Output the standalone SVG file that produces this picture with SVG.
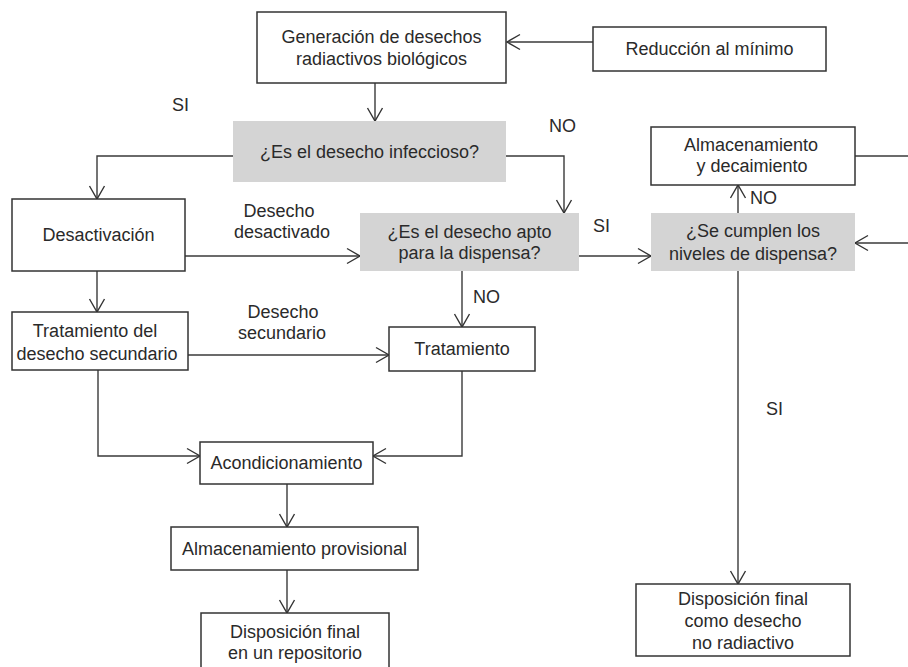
<svg xmlns="http://www.w3.org/2000/svg" width="908" height="667" viewBox="0 0 908 667">
  <defs>
    <marker id="arrow" markerUnits="userSpaceOnUse" markerWidth="16" markerHeight="18" viewBox="-14 -9 16 18" refX="0" refY="0" orient="auto">
      <path d="M-13,-7.5 L0,0 L-13,7.5" fill="none" stroke="#333" stroke-width="1.4"/>
    </marker>
    <style>
      .box { fill: #fff; stroke: #333; stroke-width: 1.5; }
      .q { fill: #d4d4d4; stroke: none; }
      .t { font-family: "Liberation Sans", Arial, sans-serif; font-size: 18px; fill: #2a2a2a; text-anchor: middle; }
      .lbl { font-family: "Liberation Sans", Arial, sans-serif; font-size: 18px; fill: #2a2a2a; }
      .c { fill: none; stroke: #3a3a3a; stroke-width: 1.4; }
      .a { fill: none; stroke: #3a3a3a; stroke-width: 1.4; marker-end: url(#arrow); }
    </style>
  </defs>
  <rect width="908" height="667" fill="#fff"/>

  <!-- connectors -->
  <g id="connectors">
    <path class="a" d="M593,42 L507,42"/>
    <path class="a" d="M375,83 L375,121"/>
    <path class="a" d="M233,156 L97,156 L97,199"/>
    <path class="a" d="M506,156 L564,156 L564,213"/>
    <path class="a" d="M185,256 L360,256"/>
    <path class="a" d="M579,256 L651,256"/>
    <path class="a" d="M738,213 L738,185"/>
    <path class="c" d="M855,156 L908,156"/>
    <path class="a" d="M908,243 L855,243"/>
    <path class="a" d="M738,271 L738,584"/>
    <path class="a" d="M462,271 L462,327"/>
    <path class="a" d="M97,271 L97,312"/>
    <path class="a" d="M188,355 L389,355"/>
    <path class="a" d="M98,370 L98,456 L200,456"/>
    <path class="a" d="M462,371 L462,456 L373,456"/>
    <path class="a" d="M287,484 L287,527"/>
    <path class="a" d="M287,570 L287,613"/>
  </g>

  <!-- edge labels -->
  <g id="labels">
    <text class="lbl" x="172" y="111">SI</text>
    <text class="lbl" x="549" y="132">NO</text>
    <text class="t" x="279" y="217">Desecho</text>
    <text class="t" x="282" y="238">desactivado</text>
    <text class="lbl" x="593" y="232">SI</text>
    <text class="lbl" x="750" y="204">NO</text>
    <text class="lbl" x="473" y="303">NO</text>
    <text class="t" x="283" y="318">Desecho</text>
    <text class="t" x="282" y="339">secundario</text>
    <text class="lbl" x="766" y="415">SI</text>
  </g>

  <g id="generacion">
    <rect class="box" x="257" y="12" width="249" height="71"/>
    <text class="t" x="381.5" y="43">Generación de desechos</text>
    <text class="t" x="381.5" y="65">radiactivos biológicos</text>
  </g>

  <g id="reduccion">
    <rect class="box" x="593" y="27" width="233" height="44"/>
    <text class="t" x="709.5" y="55">Reducción al mínimo</text>
  </g>

  <g id="infeccioso">
    <rect class="q" x="233" y="121" width="273" height="61"/>
    <text class="t" x="369.5" y="158">¿Es el desecho infeccioso?</text>
  </g>

  <g id="desactivacion">
    <rect class="box" x="12" y="199" width="173" height="72"/>
    <text class="t" x="98.5" y="241">Desactivación</text>
  </g>

  <g id="apto">
    <rect class="q" x="360" y="213" width="219" height="58"/>
    <text class="t" x="469.5" y="238">¿Es el desecho apto</text>
    <text class="t" x="469.5" y="259">para la dispensa?</text>
  </g>

  <g id="niveles">
    <rect class="q" x="651" y="213" width="204" height="58"/>
    <text class="t" x="753" y="237">¿Se cumplen los</text>
    <text class="t" x="753" y="260">niveles de dispensa?</text>
  </g>

  <g id="decaimiento">
    <rect class="box" x="651" y="127" width="204" height="58"/>
    <text class="t" x="751" y="151">Almacenamiento</text>
    <text class="t" x="752" y="172">y decaimiento</text>
  </g>

  <g id="secundario">
    <rect class="box" x="12" y="312" width="176" height="58"/>
    <text class="t" x="95" y="337">Tratamiento del</text>
    <text class="t" x="97" y="360">desecho secundario</text>
  </g>

  <g id="tratamiento">
    <rect class="box" x="389" y="327" width="146" height="44"/>
    <text class="t" x="462" y="355">Tratamiento</text>
  </g>

  <g id="acondicionamiento">
    <rect class="box" x="200" y="442" width="173" height="42"/>
    <text class="t" x="286.5" y="469">Acondicionamiento</text>
  </g>

  <g id="provisional">
    <rect class="box" x="171" y="527" width="247" height="43"/>
    <text class="t" x="294.5" y="555">Almacenamiento provisional</text>
  </g>

  <g id="repositorio">
    <rect class="box" x="201" y="613" width="188" height="60"/>
    <text class="t" x="295" y="638">Disposición final</text>
    <text class="t" x="295" y="659">en un repositorio</text>
  </g>

  <g id="no-radiactivo">
    <rect class="box" x="636" y="584" width="214" height="72"/>
    <text class="t" x="743" y="605">Disposición final</text>
    <text class="t" x="743" y="627">como desecho</text>
    <text class="t" x="743" y="649">no radiactivo</text>
  </g>
</svg>
